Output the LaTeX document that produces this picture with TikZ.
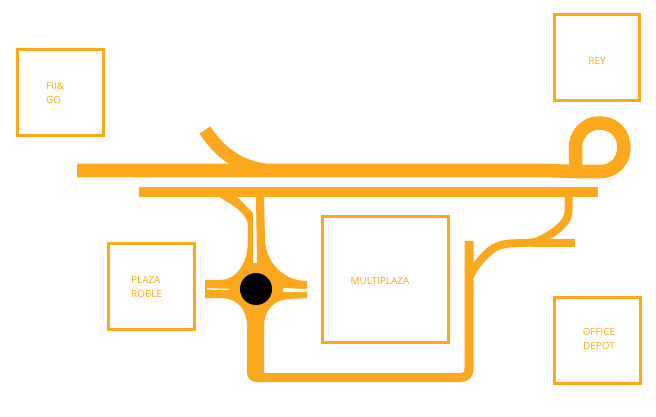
\documentclass[tikz,border=0pt]{standalone}
\usepackage{fontspec}
\setmainfont{Open Sans}
\usepackage{xcolor}
\definecolor{roadorange}{HTML}{FBA81C}
\usetikzlibrary{calc}
\tikzset{
  placebox/.style={draw=roadorange,line width=3pt,fill=none,inner sep=0pt,minimum width=#1,minimum height=#1},
  placelabel/.style={text=roadorange,font=\fontsize{9.9}{14}\selectfont,inner sep=0pt,align=center},
  road/.style={draw=roadorange,line width=#1,line cap=butt,line join=round},
  road/.default=9pt
}
\begin{document}
\begin{tikzpicture}[x=1pt,y=-1pt]
  \useasboundingbox (0,0) rectangle (656,417);
  % boxes
  \node[placebox=86pt] (fiigo) at (60.5,92.5) {};
  \node[placebox=85.5pt] (rey) at (597,57.5) {};
  \node[placebox=86pt] (plazaroble) at (151.5,286.5) {};
  \node[placebox=126pt] (multiplaza) at (385.5,279.5) {};
  \node[placebox=86pt] (officedepot) at (597,340.5) {};
  % labels
  \node[placelabel,align=left,anchor=west] (fiigolabel) at (46,93) {FII\&\\GO};
  \node[placelabel] (reylabel) at (597,61) {REY};
  \node[placelabel,align=left,anchor=west] (plazarobleabel) at (131,286.5) {PLAZA\\ROBLE};
  \node[placelabel] (multiplazalabel) at (380,280.5) {MULTIPLAZA};
  \node[placelabel] (officedepotlabel) at (599,338.5) {OFFICE\\DEPOT};
  % main roads
  \draw[road=13.5pt] (77,170.5) -- (545,170.5) -- (575,171.5) -- (600,171.5)
    .. controls (608,171.5) and (612,169) .. (617,165)
    .. controls (630,152) and (625,123) .. (599,123)
    .. controls (585,123) and (575.5,135) .. (575.5,147) -- (575.5,165);
  \draw[road=10pt] (139,192) -- (598,192);
  \draw[road=13pt] (205,130) .. controls (218,150) and (236,166) .. (265,170);
  % ramps on the right
  \draw[road=8pt] (568.5,195) -- (568.5,212)
    .. controls (568.5,224) and (550,236) .. (536,242)
    .. controls (520,244) and (508,242) .. (498,246)
    .. controls (488,250) and (476,264) .. (470,276);
  \draw[road=8pt] (532,243) -- (575,243);
  \draw[road=9pt] (469,241) -- (469,368) .. controls (469,375) and (466,377.5) .. (460,377.5) -- (258,377.5);
  % roundabout
  \fill[roadorange] (205,280) -- (220,280) .. controls (236,280) and (248,264) .. (248,240)
    -- (248,225) .. controls (247,215) and (235,205) .. (215,195) -- (235,195)
    -- (253,213) -- (253,263) -- (257,263) -- (256,197) -- (264,197) -- (265,240)
    .. controls (266,264) and (285,281) .. (307,281) -- (307,298) -- (287,299)
    .. controls (272,301) and (264,312) .. (264,326) -- (264,382) -- (258,382)
    .. controls (250,382) and (247,378) .. (247,372) -- (247,326)
    .. controls (247,310) and (238,298) .. (220,298) -- (205,298) -- cycle;
  \fill[white] (207,288.2) -- (229,288.8) -- (229,290.2) -- (207,289.6) -- cycle;
  \fill[white] (283,288) -- (307,289) -- (307,292) -- (283,292) -- cycle;
  \fill[black] (256,289) circle (16);
\end{tikzpicture}
\end{document}
